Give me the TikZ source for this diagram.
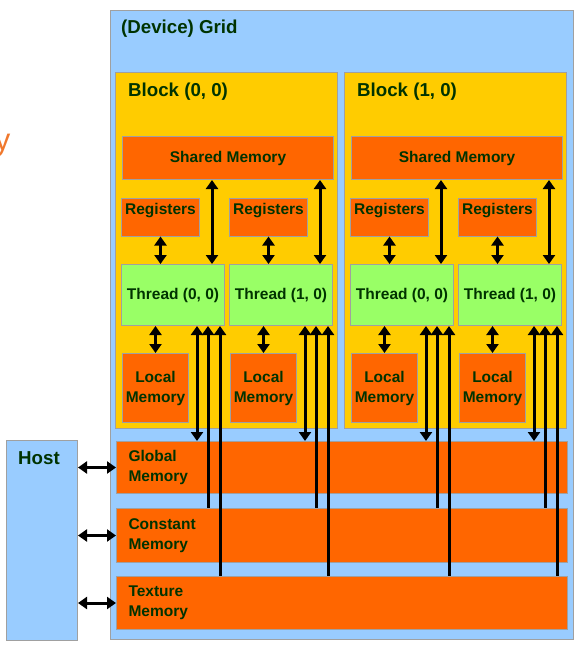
\documentclass[tikz,border=0pt]{standalone}
\usepackage{fontspec}
\setmainfont{Liberation Sans}
\usetikzlibrary{arrows.meta}

\definecolor{gridblue}{HTML}{99CCFF}
\definecolor{blockgold}{HTML}{FFCC00}
\definecolor{memorange}{HTML}{FF6600}
\definecolor{threadgreen}{HTML}{99FF66}
\definecolor{textgreen}{HTML}{003300}
\definecolor{edgegray}{HTML}{A0A0A0}
\definecolor{captionorange}{HTML}{F0782D}

\begin{document}
\begin{tikzpicture}[x=1pt, y=-1pt,
	>={Triangle[width=12pt,length=9pt]},
	box/.style={draw=edgegray, line width=1pt, anchor=north west, inner sep=0pt,
		text=textgreen, font=\bfseries\fontsize{15.5}{20}\selectfont},
	gridbox/.style={box, fill=gridblue},
	blockbox/.style={box, fill=blockgold},
	membox/.style={box, fill=memorange},
	threadbox/.style={box, fill=threadgreen, minimum width=103pt, minimum height=61pt},
	regbox/.style={membox, minimum width=78pt, text height=15.5pt, text depth=22pt},
	localbox/.style={membox, minimum width=66pt, minimum height=69pt, align=center},
	bigmem/.style={membox, text width=427pt, inner xsep=12pt, align=left},
	title/.style={anchor=base west, inner sep=0pt, text=textgreen,
		font=\bfseries\fontsize{18.7}{22}\selectfont},
	link/.style={line width=3pt}
	]
	
	\useasboundingbox (0,0) rectangle (582,647);
	
	% ---- Host and grid ----
	\node[gridbox, minimum width=71pt, minimum height=200pt] (host) at (6,440) {};
	\node[title] (hostlbl) at (18,464) {Host};
	\node[gridbox, minimum width=463pt, minimum height=629pt] (grid) at (110,10) {};
	\node[title] (gridlbl) at (121,34) {(Device) Grid};
	
	% ---- Cut-off caption at the left edge ----
	\node[anchor=base east, inner sep=0pt, text=captionorange,
		font=\fontsize{31}{31}\selectfont] (cut) at (10.5,151) {y};
	
	% ---- Blocks with their threads ----
	\foreach \b/\dx in {0/0, 1/229}
	{
		\node[blockbox, minimum width=222pt, minimum height=356pt] (blk\b) at (115+\dx,72) {};
		\node[title] (blklbl\b) at (128+\dx,97) {Block (\b, 0)};
		\node[membox, minimum width=211pt, minimum height=43pt] (shr\b) at (122+\dx,136) {Shared Memory};
		\foreach \t in {0,1}
		{
			\node[regbox] (reg\b\t) at (121+\dx+108*\t,198) {Registers};
			\node[threadbox] (thr\b\t) at (121+\dx+108*\t,264) {Thread (\t, 0)};
			\node[localbox] (loc\b\t) at (122+\dx+108*\t,353) {Local\\Memory};
		}
	}
	
	% ---- Device memories ----
	\node[bigmem, minimum height=52pt] (glob) at (116,441) {Global\\Memory};
	\node[bigmem, minimum height=54pt] (const) at (116,508) {Constant\\Memory};
	\node[bigmem, minimum height=53pt] (tex) at (116,576) {Texture\\Memory};
	
	% ---- Host to memories ----
	\foreach \m in {glob,const,tex}
	\draw[link, <->] (host.east |- \m.west) -- (\m.west);
	
	% ---- Thread connections ----
	\foreach \b in {0,1}
	\foreach \t in {0,1}
	{
		\draw[link, <->] (reg\b\t.south) -- (reg\b\t.south |- thr\b\t.north);
		\coordinate (sh\b\t) at ([xshift=-13pt]thr\b\t.north east);
		\draw[link, <->] (sh\b\t) -- (sh\b\t |- shr\b.south);
		\draw[link, <->] (loc\b\t.north) -- (loc\b\t.north |- thr\b\t.south);
		\coordinate (gl\b\t) at ([xshift=-28pt]thr\b\t.south east);
		\coordinate (co\b\t) at ([xshift=-17pt]thr\b\t.south east);
		\coordinate (te\b\t) at ([xshift=-5pt]thr\b\t.south east);
		\draw[link, <->] (gl\b\t) -- (gl\b\t |- glob.north);
		\draw[link, <-] (co\b\t) -- (co\b\t |- const.north);
		\draw[link, <-] (te\b\t) -- (te\b\t |- tex.north);
	}
	
\end{tikzpicture}
\end{document}
